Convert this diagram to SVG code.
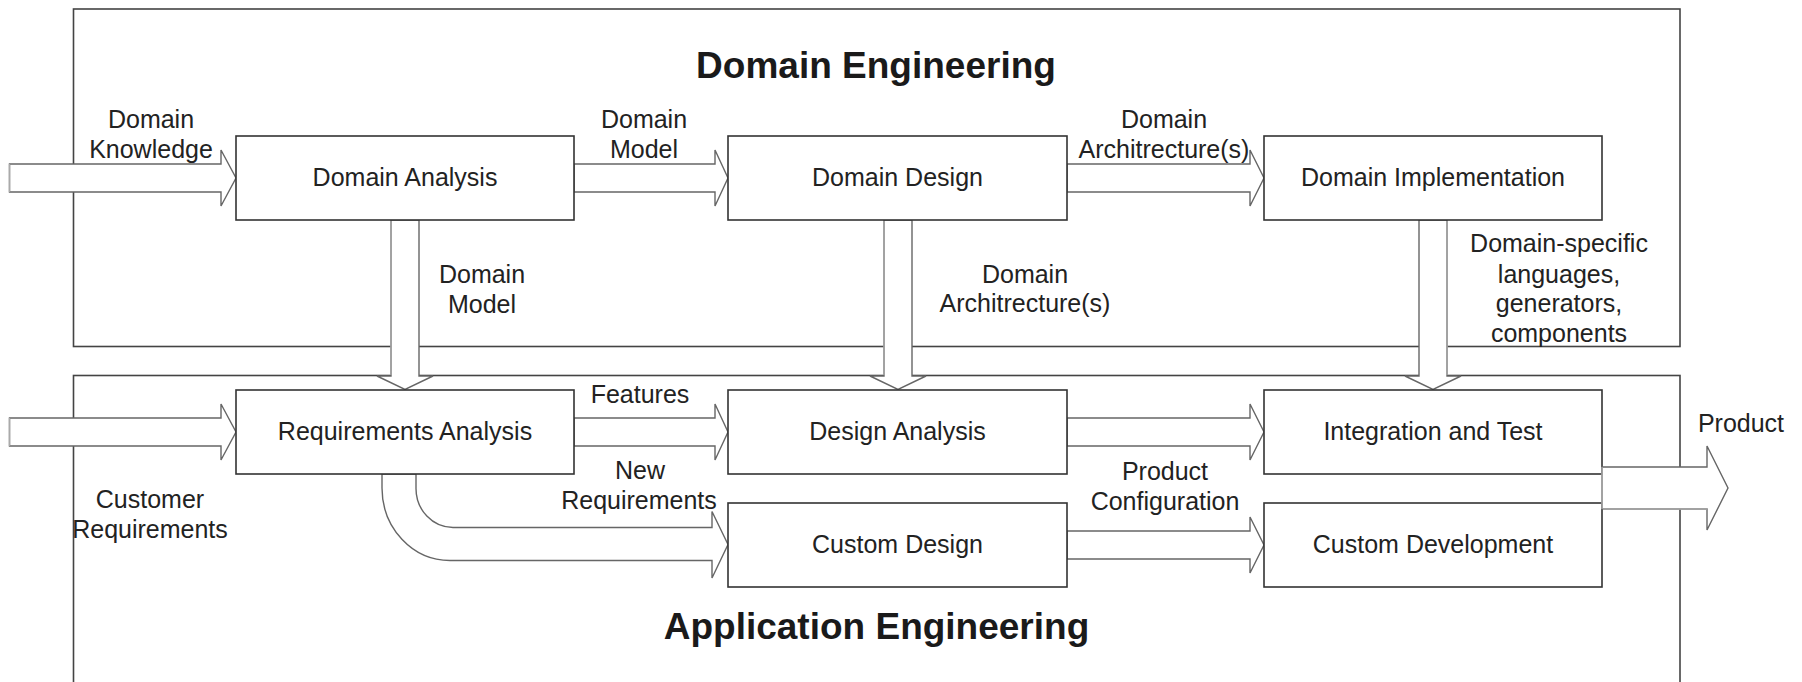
<svg xmlns="http://www.w3.org/2000/svg" width="1802" height="682" viewBox="0 0 1802 682">
  <style>
    .frame { fill: none; stroke: #444; stroke-width: 1.6; }
    .box { fill: #fff; stroke: #333; stroke-width: 1.6; }
    .arrow { fill: #fff; stroke: #666; stroke-width: 1.4; stroke-linejoin: miter; }
    .lite { fill: none; stroke: #aaa; stroke-width: 1.4; }
    text { font-family: "Liberation Sans", Arial, Helvetica, sans-serif; font-size: 25px; fill: #222; text-anchor: middle; }
    .title { font-size: 37px; font-weight: bold; fill: #1a1a1a; }
  </style>

  <!-- Frames for the two engineering phases -->
  <g id="domain-engineering-frame">
    <rect class="frame" x="73.5" y="9" width="1606.5" height="337.5"/>
    <text class="title" x="876" y="78">Domain Engineering</text>
  </g>
  <g id="application-engineering-frame">
    <rect class="frame" x="73.5" y="375.5" width="1606.5" height="330"/>
    <text class="title" x="876.5" y="639">Application Engineering</text>
  </g>

  <!-- Block arrows between activities -->
  <g id="connectors">
    <polygon class="arrow" points="9.5,164 221,164 221,150 236,178 221,206 221,192 9.5,192"/>
    <line class="lite" x1="9.5" y1="164" x2="9.5" y2="192"/>
    <polygon class="arrow" points="574,164 715,164 715,150 728,178 715,206 715,192 574,192"/>
    <polygon class="arrow" points="1067,164 1250,164 1250,150 1264,178 1250,206 1250,192 1067,192"/>

    <polygon class="arrow" points="9.5,418 221,418 221,404 236,432 221,460 221,446 9.5,446"/>
    <line class="lite" x1="9.5" y1="418" x2="9.5" y2="446"/>
    <polygon class="arrow" points="574,418 715,418 715,404 728,432 715,460 715,446 574,446"/>
    <polygon class="arrow" points="1067,418 1250,418 1250,404 1264,432 1250,460 1250,446 1067,446"/>
    <polygon class="arrow" points="1067,531 1250,531 1250,517 1264,545 1250,573 1250,559 1067,559"/>

    <!-- New requirements: bent arrow from Requirements Analysis to Custom Design -->
    <path class="arrow" d="M382,474 V488 A68,72.5 0 0 0 450,560.5 H712 V578 L728,544.5 L712,511.5 V527.5 H453 A37,39 0 0 1 416,488.5 V474 Z"/>

    <!-- Downward hand-offs from domain to application engineering -->
    <polygon class="arrow" points="391,220 391,376 377,376 405,389.5 433,376 419,376 419,220"/>
    <line class="lite" x1="391" y1="221" x2="391" y2="375"/>
    <polygon class="arrow" points="884,220 884,376 870,376 898,389.5 926,376 912,376 912,220"/>
    <line class="lite" x1="884" y1="221" x2="884" y2="375"/>
    <polygon class="arrow" points="1419,220 1419,376 1405,376 1433,389.5 1461,376 1447,376 1447,220"/>
    <line class="lite" x1="1447" y1="221" x2="1447" y2="375"/>
  </g>

  <!-- Activities -->
  <g id="domain-analysis">
    <rect class="box" x="236" y="136" width="338" height="84"/>
    <text x="405" y="186">Domain Analysis</text>
  </g>
  <g id="domain-design">
    <rect class="box" x="728" y="136" width="339" height="84"/>
    <text x="897.5" y="186">Domain Design</text>
  </g>
  <g id="domain-implementation">
    <rect class="box" x="1264" y="136" width="338" height="84"/>
    <text x="1433" y="186">Domain Implementation</text>
  </g>
  <g id="requirements-analysis">
    <rect class="box" x="236" y="390" width="338" height="84"/>
    <text x="405" y="440">Requirements Analysis</text>
  </g>
  <g id="design-analysis">
    <rect class="box" x="728" y="390" width="339" height="84"/>
    <text x="897.5" y="440">Design Analysis</text>
  </g>
  <g id="integration-and-test">
    <rect class="box" x="1264" y="390" width="338" height="84"/>
    <text x="1433" y="440">Integration and Test</text>
  </g>
  <g id="custom-design">
    <rect class="box" x="728" y="503" width="339" height="84"/>
    <text x="897.5" y="553">Custom Design</text>
  </g>
  <g id="custom-development">
    <rect class="box" x="1264" y="503" width="338" height="84"/>
    <text x="1433" y="553">Custom Development</text>
  </g>

  <!-- Output arrow -->
  <g id="product-output">
    <polygon class="arrow" points="1602,467 1707,467 1707,446 1728,488 1707,530 1707,509 1602,509"/>
    <line class="lite" x1="1602" y1="467" x2="1602" y2="509"/>
    <line class="lite" x1="1603" y1="509" x2="1707" y2="509"/>
  </g>

  <!-- Connector labels -->
  <g id="labels">
    <text x="151" y="128">Domain</text>
    <text x="151" y="158">Knowledge</text>
    <text x="644" y="128">Domain</text>
    <text x="644" y="158">Model</text>
    <text x="1164" y="128">Domain</text>
    <text x="1164" y="158">Architrecture(s)</text>
    <text x="482" y="283">Domain</text>
    <text x="482" y="313">Model</text>
    <text x="1025" y="283">Domain</text>
    <text x="1025" y="312">Architrecture(s)</text>
    <text x="1559" y="252">Domain-specific</text>
    <text x="1559" y="283">languages,</text>
    <text x="1559" y="312">generators,</text>
    <text x="1559" y="342">components</text>
    <text x="640" y="403">Features</text>
    <text x="640" y="479">New</text>
    <text x="639" y="509">Requirements</text>
    <text x="1165" y="480">Product</text>
    <text x="1165" y="510">Configuration</text>
    <text x="150" y="508">Customer</text>
    <text x="150" y="538">Requirements</text>
    <text x="1741" y="432">Product</text>
  </g>
</svg>
